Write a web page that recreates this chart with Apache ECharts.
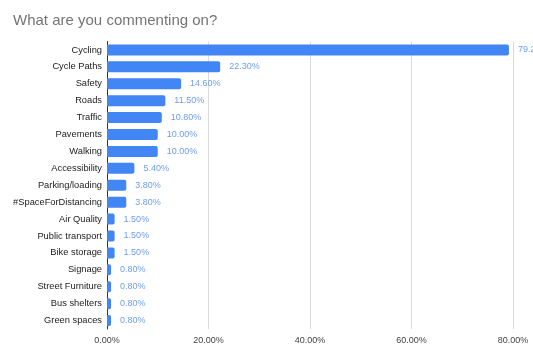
<!DOCTYPE html>
<html><head><meta charset="utf-8">
<script src="https://cdn.jsdelivr.net/npm/echarts@6/dist/echarts.min.js"></script>
<style>html,body{margin:0;padding:0;background:#fff}#c{width:533px;height:345px}</style>
</head><body><div id="c"></div>
<script>
var categories = ["Cycling","Cycle Paths","Safety","Roads","Traffic","Pavements","Walking","Accessibility","Parking/loading","#SpaceForDistancing","Air Quality","Public transport","Bike storage","Signage","Street Furniture","Bus shelters","Green spaces"];
var values = [79.2,22.3,14.6,11.5,10.8,10.0,10.0,5.4,3.8,3.8,1.5,1.5,1.5,0.8,0.8,0.8,0.8];
var xTicks = [0,20,40,60,80];
var F = '"Liberation Sans", Arial, sans-serif';
var chart = echarts.init(document.getElementById('c'));
chart.setOption({
  animation:false,
  title:{text:'What are you commenting on?',left:8,top:8,textStyle:{fontFamily:F,fontSize:15,fontWeight:'normal',color:'#757575'}},
  grid:{left:107,right:20,top:41.5,bottom:15.5,containLabel:false},
  xAxis:{type:'value',min:xTicks[0],max:xTicks[xTicks.length-1],interval:20,
    axisLine:{show:false},axisTick:{show:false},
    splitLine:{lineStyle:{color:'#d9d9d9',width:1}},
    axisLabel:{margin:7,fontFamily:F,fontSize:9,color:'#444',formatter:function(v){return v.toFixed(2)+'%';}}},
  yAxis:{type:'category',inverse:true,data:categories,
    axisLine:{lineStyle:{color:'#333',width:1}},axisTick:{show:false},
    axisLabel:{margin:5,fontFamily:F,fontSize:9.3,color:'#222'}},
  series:[{type:'bar',data:values,barWidth:11,itemStyle:{color:'#4285f4',borderRadius:[0,2,2,0]},
    label:{show:true,position:'right',distance:9,fontFamily:F,fontSize:9,color:'#6d9eeb',formatter:function(p){return p.value.toFixed(2)+'%';}}}]
});
</script></body></html>
